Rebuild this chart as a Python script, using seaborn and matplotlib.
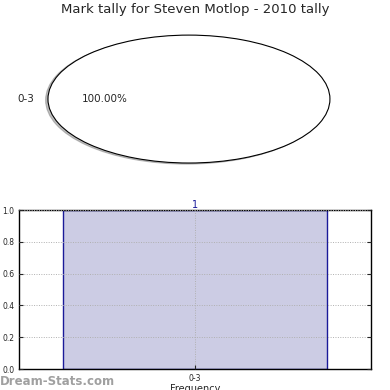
import pandas as pd
import seaborn as sns
import matplotlib
matplotlib.use("Agg")
import matplotlib.pyplot as plt

# data
categories = ["0-3"]
counts = [1]
pie_labels = ["0-3"]
pie_values = [1]
title = "Mark tally for Steven Motlop - 2010 tally"

sns.set_style("white")
plt.rcParams["font.family"] = ["DejaVu Sans"]

fig = plt.figure(figsize=(3.9, 3.9), dpi=100)
fig.text(0.5, 0.975, title, ha="center", va="center", fontsize=9.5)

# pie on top, stretched into an ellipse
ax_pie = fig.add_axes([0.123, 0.582, 0.723, 0.328])
ax_pie.pie(pie_values, labels=pie_labels, autopct="%.2f%%",
           shadow={"ox": -0.012, "oy": -0.012, "shade": 0.5},
           colors=["white"], wedgeprops={"edgecolor": "black", "linewidth": 0.8},
           textprops={"fontsize": 7.5})
ax_pie.set_aspect("auto")
ax_pie.set_xlim(-1, 1)
ax_pie.set_ylim(-1, 1)
ax_pie.axis("off")

# bar chart below
df = pd.DataFrame({"range": categories, "count": counts})
ax = fig.add_axes([0.0487, 0.0538, 0.9026, 0.4077])
sns.barplot(data=df, x="range", y="count", ax=ax, color="#cccce4",
            saturation=1, width=0.75, edgecolor="#1a1a99", linewidth=1)
ax.set_xlim(-0.5, 0.5)
ax.set_ylim(0, 1.0)
ax.set_yticks([0.0, 0.2, 0.4, 0.6, 0.8, 1.0])
ax.tick_params(labelsize=5.5, length=3, direction="in", right=True, left=True, bottom=True)
ax.grid(True, linestyle=(0, (1, 1.5)), color="#b0b0b0", linewidth=0.7)
ax.set_axisbelow(False)
for s in ax.spines.values():
    s.set_color("black")
    s.set_linewidth(1)
ax.set_xlabel("Frequency", fontsize=7, labelpad=1)
ax.set_ylabel("")
for i, v in enumerate(counts):
    ax.text(i, v, str(v), ha="center", va="bottom", color="#1a1a99", fontsize=7)

fig.text(0.0, 0.012, "Dream-Stats.com", color="#a0a0a0", fontsize=8.5, fontweight="semibold")

fig.savefig("out.png", dpi=100)
